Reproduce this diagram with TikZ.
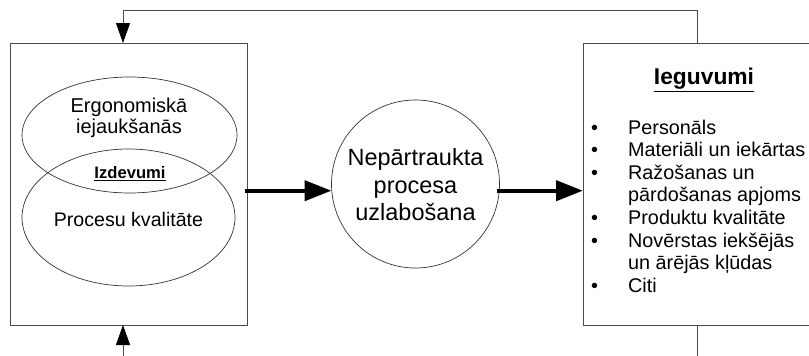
\documentclass[tikz,border=0pt]{standalone}
\usepackage{fontspec}
\setmainfont{Liberation Sans}
\usetikzlibrary{arrows.meta,shapes.geometric}
\definecolor{edge}{HTML}{4A4A4A}
\begin{document}
\begin{tikzpicture}[x=1pt,y=-1pt,
  frame/.style={draw=edge,line width=0.9pt,inner sep=0pt},
  oval/.style={ellipse,draw=black!80,line width=0.7pt,inner sep=0pt},
  feedback/.style={draw=edge,line width=0.9pt,-{Triangle[length=20pt,width=14pt,color=black]}},
  mainflow/.style={draw=black,line width=4.3pt,-{Triangle[length=27pt,width=20pt]}},
  plain/.style={draw=edge,line width=0.9pt},
  txt/.style={inner sep=0pt,align=center}]
\path[use as bounding box,clip] (0,0) rectangle (809,356);

% input box with the two overlapping areas
\node[frame,minimum width=237pt,minimum height=282pt] (leftbox) at (128.5,184) {};
\node[oval,minimum width=215pt,minimum height=116pt] (ergo) at (129.5,135) {};
\node[oval,minimum width=213pt,minimum height=137pt] (quality) at (128.5,217.5) {};
\node[txt,font=\fontsize{20}{21.5}\selectfont] (ergotext) at (129,118) {Ergonomiskā\\iejaukšanās};
\node[txt,font=\fontsize{16.6}{18}\selectfont\bfseries] (costs) at (130,174) {\underline{Izdevumi}};
\node[txt,font=\fontsize{19.6}{21}\selectfont] (qualtext) at (128.5,219) {Procesu kvalitāte};

% central process
\node[circle,draw=black!80,line width=0.7pt,minimum size=168pt,inner sep=0pt] (proc) at (415.5,184) {};
\node[txt,font=\fontsize{23.5}{27.5}\selectfont] (proctext) at (415.5,185) {Nepārtraukta\\procesa\\uzlabošana};

% output box
\node[frame,minimum width=237pt,minimum height=282pt] (rightbox) at (701.5,184) {};
\node[txt,font=\fontsize{22.8}{24}\selectfont\bfseries] (gains) at (704,80) {\underline{Ieguvumi}};
\node[inner sep=0pt,anchor=base west,font=\fontsize{19.8}{22.6}\selectfont] (list) at (591,134)
{\begin{tabular}[t]{@{}p{37pt}@{}l@{}}
• & Personāls\\
• & Materiāli un iekārtas\\
• & Ražošanas un\\
  & pārdošanas apjoms\\
• & Produktu kvalitāte\\
• & Novērstas iekšējās\\
  & un ārējās kļūdas\\
• & Citi
\end{tabular}};

% flow through the process
\coordinate (outL) at (245,190.7);
\coordinate (inC) at (331.5,190.7);
\coordinate (outC) at (497,190.7);
\coordinate (inR) at (583,190.7);
\draw[mainflow] (outL) -- (inC);
\draw[mainflow] (outC) -- (inR);

% feedback loop and external input
\coordinate (topR) at (697,43);
\coordinate (topL) at (123,43);
\coordinate (botL) at (123,325);
\coordinate (botR) at (697,325);
\draw[feedback] (topR) -- ++(0,-32.3) -| (topL);
\draw[feedback] (123,360) -- (botL);
\draw[plain] (botR) -- (697,360);
\end{tikzpicture}
\end{document}
